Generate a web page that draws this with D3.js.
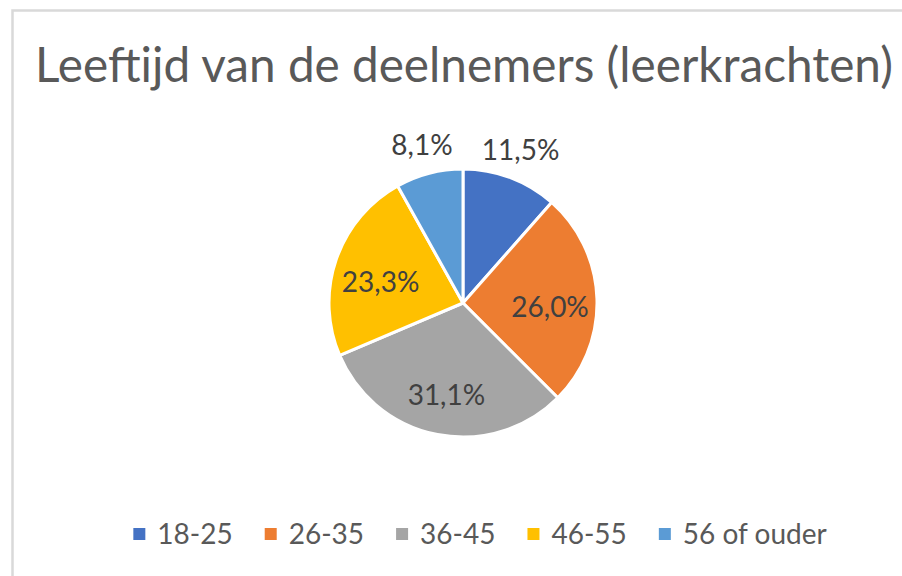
<!DOCTYPE html>
<html>
<head>
<meta charset="utf-8">
<script src="https://cdn.jsdelivr.net/npm/d3@7"></script>
<style>
  body { margin: 0; background: #fff; }
  svg text { font-family: Lato, "Open Sans", sans-serif; }
</style>
</head>
<body>
<svg id="chart" width="902" height="576"></svg>
<script>
var title = "Leeftijd van de deelnemers (leerkrachten)";
var categories = ["18-25", "26-35", "36-45", "46-55", "56 of ouder"];
var shares = [11.5, 26.0, 31.1, 23.3, 8.1];
var colors = ["#4472c4", "#ed7d31", "#a5a5a5", "#ffc000", "#5b9bd5"];

var width = 902, height = 576;
var cx = 463, cy = 303, radius = 134;

var svg = d3.select("#chart");

// chart area border (runs off the right and bottom of the crop)
svg.append("rect")
    .attr("x", 12.5).attr("y", 10.5)
    .attr("width", 1000).attr("height", 1000)
    .attr("fill", "#fff")
    .attr("stroke", "#d9d9d9")
    .attr("stroke-width", 2.5);

// title, sized so it spans the same width as in the original
var titleText = svg.append("text")
    .attr("x", 464)
    .attr("y", 82)
    .attr("text-anchor", "middle")
    .attr("fill", "#595959")
    .style("font-size", "44px")
    .text(title);
var tw = titleText.node().getComputedTextLength();
titleText.style("font-size", (44 * 858 / tw) + "px");

// pie
var pie = d3.pie().sort(null).value(function(d) { return d; });
var arc = d3.arc().innerRadius(0).outerRadius(radius);
var labelArc = d3.arc().innerRadius(radius * 0.65).outerRadius(radius * 0.65);
var outerArc = d3.arc().innerRadius(radius + 29).outerRadius(radius + 29);

var g = svg.append("g").attr("transform", "translate(" + cx + "," + cy + ")");
var arcs = pie(shares);

g.selectAll("path")
    .data(arcs)
    .enter().append("path")
    .attr("d", arc)
    .attr("fill", function(d, i) { return colors[i]; })
    .attr("stroke", "#fff")
    .attr("stroke-width", 3)
    .attr("stroke-linejoin", "round");

var fmt = function(v) { return v.toFixed(1).replace(".", ",") + "%"; };

g.selectAll("text.lbl")
    .data(arcs)
    .enter().append("text")
    .attr("class", "lbl")
    .attr("transform", function(d) {
      var c = d.data < 12 ? outerArc.centroid(d) : labelArc.centroid(d);
      return "translate(" + c[0] + "," + c[1] + ")";
    })
    .attr("dy", function(d) { return d.data < 12 ? "0.35em" : "0.6em"; })
    .attr("text-anchor", "middle")
    .attr("fill", "#404040")
    .style("font-size", "28px")
    .text(function(d) { return fmt(d.data); });

// legend
var legendY = 534, box = 12, boxGap = 12, itemGap = 32;
var legend = svg.append("g");
var items = legend.selectAll("g")
    .data(categories)
    .enter().append("g");

items.append("rect")
    .attr("width", box).attr("height", box)
    .attr("y", legendY - box / 2)
    .attr("fill", function(d, i) { return colors[i]; });

items.append("text")
    .attr("x", box + boxGap)
    .attr("y", legendY)
    .attr("dy", "0.35em")
    .attr("fill", "#595959")
    .style("font-size", "28px")
    .text(function(d) { return d; });

var offsets = [], xPos = 0;
items.each(function() {
  offsets.push(xPos);
  xPos += box + boxGap + d3.select(this).select("text").node().getComputedTextLength() + itemGap;
});
var total = xPos - itemGap;
var startX = 480 - total / 2;
items.attr("transform", function(d, i) { return "translate(" + (startX + offsets[i]) + ",0)"; });
</script>
</body>
</html>
